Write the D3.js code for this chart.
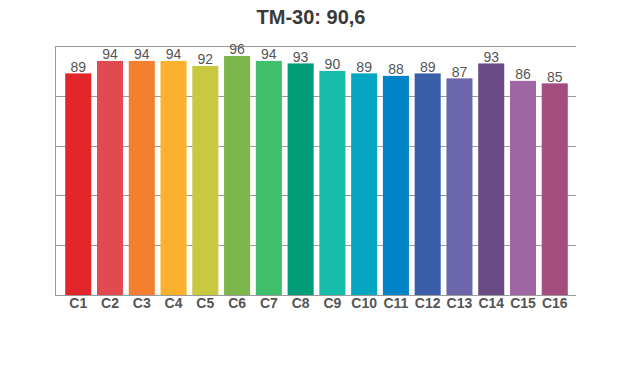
<!DOCTYPE html>
<html>
<head>
<meta charset="utf-8">
<script src="https://cdn.jsdelivr.net/npm/d3@7"></script>
<style>
  body { margin: 0; background: #fff; }
  text { font-family: "Liberation Sans", Arial, sans-serif; }
</style>
</head>
<body>
<div id="chart"></div>
<script>
// Colour sample fidelity values per hue bin
const categories = ["C1", "C2", "C3", "C4", "C5", "C6", "C7", "C8",
                    "C9", "C10", "C11", "C12", "C13", "C14", "C15", "C16"];
const values = [89, 94, 94, 94, 92, 96, 94, 93, 90, 89, 88, 89, 87, 93, 86, 85];
const barColors = ["#e3262b", "#e14a50", "#f57f30", "#fbb12b", "#c9c841", "#7cb64a",
                   "#3fbf6c", "#009d79", "#18bcab", "#05a6c1", "#0184c7", "#3b5ea8",
                   "#6c66aa", "#6b4b85", "#9e67a3", "#a44d7e"];
const gridTicks = [0, 20, 40, 60, 80, 100];
const title = "TM-30: 90,6";

const width = 620, height = 370;
const plot = {left: 55, right: 576, top: 46, bottom: 295};

const svg = d3.select("#chart").append("svg")
    .attr("width", width)
    .attr("height", height);

const x = d3.scaleBand()
    .domain(categories)
    .range([59.5, 573.5])
    .padding(0.18);

const y = d3.scaleLinear()
    .domain([0, 100])
    .range([plot.bottom, plot.top]);

// horizontal grid (the top one doubles as the frame edge)
svg.append("g")
    .selectAll("line")
    .data(gridTicks)
    .join("line")
    .attr("x1", plot.left)
    .attr("x2", plot.right)
    .attr("y1", d => Math.round(y(d)) + 0.5)
    .attr("y2", d => Math.round(y(d)) + 0.5)
    .attr("stroke", "#9a9a9a")
    .attr("stroke-width", 1);

// left axis line
svg.append("line")
    .attr("x1", plot.left + 0.5).attr("x2", plot.left + 0.5)
    .attr("y1", plot.top).attr("y2", plot.bottom + 1)
    .attr("stroke", "#9a9a9a");

// bars
svg.append("g")
    .selectAll("rect")
    .data(values)
    .join("rect")
    .attr("x", (d, i) => x(categories[i]))
    .attr("width", x.bandwidth())
    .attr("y", d => y(d))
    .attr("height", d => y(0) - y(d))
    .attr("fill", (d, i) => barColors[i]);

// value labels
svg.append("g")
    .selectAll("text")
    .data(values)
    .join("text")
    .attr("x", (d, i) => x(categories[i]) + x.bandwidth() / 2)
    .attr("y", d => y(d) - 1.5)
    .attr("text-anchor", "middle")
    .attr("font-size", 14)
    .attr("fill", "#555")
    .text(d => d);

// category axis
svg.append("g")
    .attr("transform", "translate(0," + plot.bottom + ")")
    .call(d3.axisBottom(x).tickSize(0).tickPadding(3))
    .call(g => g.select(".domain").remove())
    .selectAll("text")
    .attr("font-size", 14)
    .attr("font-weight", "bold")
    .attr("fill", "#555")
    .attr("font-family", "Liberation Sans, Arial, sans-serif");

// title
svg.append("text")
    .attr("x", 311)
    .attr("y", 24)
    .attr("text-anchor", "middle")
    .attr("font-size", 20)
    .attr("font-weight", "bold")
    .attr("fill", "#3a3a3a")
    .text(title);
</script>
</body>
</html>
